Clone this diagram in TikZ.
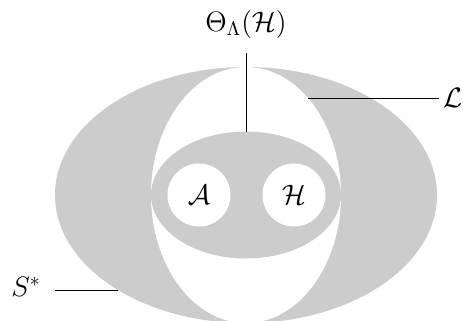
\documentclass[tikz,border=0pt]{standalone}
\usepackage{fix-cm}
\usepackage{amsmath}
\usepackage{amssymb}
\usetikzlibrary{positioning}

\tikzset{region/.style={fill=black!20}, hole/.style={fill=white}}

\begin{document}
\begin{tikzpicture}[font=\fontsize{16}{19}\selectfont]
\useasboundingbox (-4.92,-2.5) rectangle (4.34,3.9);
\clip (-4.92,-2.5) rectangle (4.34,3.9);

\fill[region] (0,0) ellipse (3.82cm and 2.56cm);
\fill[hole] (0,0) ellipse (1.9cm and 2.56cm);
\fill[region] (0,0) ellipse (1.9cm and 1.27cm);
\foreach \x/\lab in {-0.94/A, 0.96/H}{
\fill[hole] (\x,0) circle (0.63cm);
\node (\lab) at (\x,0) {$\mathcal{\lab}$};
}

\coordinate (innertop) at (0,1.27);
\coordinate (lensedge) at (1.24,1.94);
\coordinate (outeredge) at (-2.56,-1.9);

\node (theta) at (0,3.42) {$\Theta_\Lambda(\mathcal{H})$};
\coordinate (thetaend) at (0,2.84);
\draw (thetaend) -- (innertop);

\node[anchor=west, inner sep=2pt] (L) at (3.86,1.94) {$\mathcal{L}$};
\draw (lensedge) -- (L.west);

\node (S) at (-4.4,-1.84) {$S^*$};
\coordinate (Send) at (-3.82,-1.9);
\draw (Send) -- (outeredge);
\end{tikzpicture}
\end{document}
